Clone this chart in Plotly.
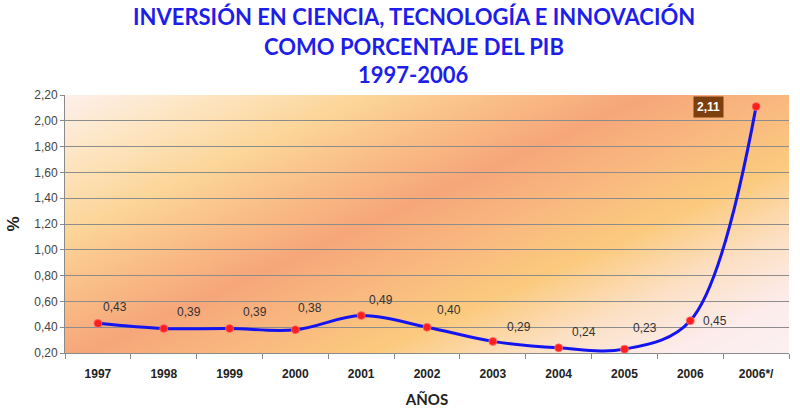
import base64, struct, zlib
import plotly.graph_objects as go

# ---------------- data ----------------
categories = ["1997", "1998", "1999", "2000", "2001", "2002", "2003", "2004", "2005", "2006", "2006*/"]
values = [0.43, 0.39, 0.39, 0.38, 0.49, 0.40, 0.29, 0.24, 0.23, 0.45, 2.11]
value_labels = ["0,43", "0,39", "0,39", "0,38", "0,49", "0,40", "0,29", "0,24", "0,23", "0,45", "2,11"]
y_ticks = [0.20, 0.40, 0.60, 0.80, 1.00, 1.20, 1.40, 1.60, 1.80, 2.00, 2.20]
y_tick_labels = ["0,20", "0,40", "0,60", "0,80", "1,00", "1,20", "1,40", "1,60", "1,80", "2,00", "2,20"]

# label offsets (pixels) relative to each point
label_dx = [17, 25, 25, 15, 20, 22, 26, 25, 21, 25, -48]
label_dy = [16, 16, 16, 22, 16, 17, 14, 16, 21, 0, 0]

# ---------------- background gradient image (decoration) ----------------
W, H = 724, 258
L0, T0 = 65, 95
stops = [
    (100, (253, 242, 244)),
    (170, (253, 230, 196)),
    (240, (252, 213, 152)),
    (300, (249, 188, 134)),
    (355, (246, 166, 122)),
    (420, (249, 186, 127)),
    (476, (251, 202, 126)),
    (540, (252, 224, 196)),
    (600, (252, 236, 236)),
    (660, (252, 241, 243)),
]

def col(u):
    if u <= stops[0][0]:
        return stops[0][1]
    for (u0, c0), (u1, c1) in zip(stops, stops[1:]):
        if u <= u1:
            t = (u - u0) / (u1 - u0)
            return tuple(int(round(a + (b - a) * t)) for a, b in zip(c0, c1))
    return stops[-1][1]

rows = []
for j in range(H):
    y = T0 + j
    row = bytearray([0])
    for i in range(W):
        x = L0 + i
        u = (0.456 * x + y) / 1.099
        row.extend(col(u))
    rows.append(bytes(row))
raw = b"".join(rows)

def chunk(tag, data):
    c = struct.pack(">I", len(data)) + tag + data
    return c + struct.pack(">I", zlib.crc32(tag + data) & 0xFFFFFFFF)

png = b"\x89PNG\r\n\x1a\n" + chunk(b"IHDR", struct.pack(">IIBBBBB", W, H, 8, 2, 0, 0, 0)) \
    + chunk(b"IDAT", zlib.compress(raw, 9)) + chunk(b"IEND", b"")
bg_uri = "data:image/png;base64," + base64.b64encode(png).decode()

# ---------------- figure ----------------
idx = list(range(len(categories)))
fig = go.Figure()
fig.add_trace(go.Scatter(
    x=idx, y=values, mode="lines+markers",
    line=dict(color="#1414F0", width=3, shape="spline", smoothing=1.0),
    marker=dict(color="#FF1E1E", size=8, line=dict(color="rgba(255,120,120,0.7)", width=1)),
    hoverinfo="skip", cliponaxis=False,
))

for i, (v, t) in enumerate(zip(values, value_labels)):
    if i == len(categories) - 1:
        fig.add_annotation(x=i, y=v, xref="x", yref="y", text="<b>" + t + "</b>", showarrow=False,
                           xshift=label_dx[i], yshift=label_dy[i],
                           font=dict(family="Arial", size=12, color="white"),
                           bgcolor="#7E3F0E", borderpad=3)
    else:
        fig.add_annotation(x=i, y=v, xref="x", yref="y", text=t, showarrow=False,
                           xshift=label_dx[i], yshift=label_dy[i],
                           font=dict(family="Arial", size=12, color="#333333"))

title_font = dict(family="Lato", size=22, color="#1E1EEB")
fig.add_annotation(text="<b>INVERSIÓN EN CIENCIA, TECNOLOGÍA E INNOVACIÓN</b>", xref="paper", yref="paper",
                   x=0.482, y=1 + (95 - 17) / 258, showarrow=False, font=title_font, yanchor="middle")
fig.add_annotation(text="<b>COMO PORCENTAJE DEL PIB</b>", xref="paper", yref="paper",
                   x=0.482, y=1 + (95 - 46) / 258, showarrow=False, font=title_font, yanchor="middle")
fig.add_annotation(text="<b>1997-2006</b>", xref="paper", yref="paper",
                   x=0.482, y=1 + (95 - 74) / 258, showarrow=False, font=title_font, yanchor="middle")

fig.add_layout_image(source=bg_uri, xref="paper", yref="paper", x=0, y=1, sizex=1, sizey=1,
                     xanchor="left", yanchor="top", sizing="stretch", layer="below")

fig.update_layout(
    width=800, height=419,
    margin=dict(l=65, r=11, t=95, b=66),
    paper_bgcolor="white", plot_bgcolor="#F9C18C",
    showlegend=False,
    separators=",.",
    xaxis=dict(
        tickmode="array", tickvals=idx, ticktext=["<b>" + c + "</b>" for c in categories],
        range=[-0.5, len(categories) - 0.5],
        showgrid=False, showline=True, linecolor="#8A8A8A", linewidth=1,
        ticks="", zeroline=False, ticklabelstandoff=10,
        tickfont=dict(family="Arial", size=12, color="#222222"),
        minor=dict(tickmode="linear", tick0=-0.5, dtick=1,
                   ticks="outside", ticklen=5, tickcolor="#8A8A8A", showgrid=False),
        title=dict(text="<b>AÑOS</b>", font=dict(family="Lato", size=15, color="#222222"), standoff=14),
    ),
    yaxis=dict(
        range=[0.2, 2.2], tickvals=y_ticks, ticktext=y_tick_labels,
        showgrid=True, gridcolor="#8C8C8C", gridwidth=1,
        showline=True, linecolor="#8A8A8A", linewidth=1,
        ticks="outside", ticklen=4, tickcolor="#8A8A8A",
        tickfont=dict(family="Arial", size=12, color="#444444"),
        zeroline=False,
        title=dict(text="<b>%</b>", font=dict(family="Arial", size=17, color="#222222"), standoff=10),
    ),
)

fig.write_html("out.html", config={"displayModeBar": False},
               post_script="document.body.style.margin='0px';document.body.style.padding='0px';")
